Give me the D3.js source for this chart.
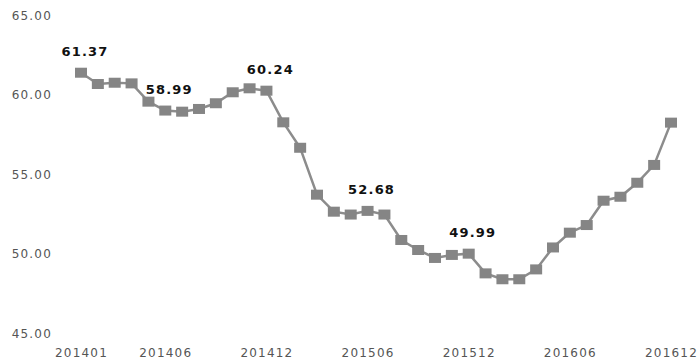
<!DOCTYPE html>
<html>
<head>
<meta charset="utf-8">
<script src="https://cdn.jsdelivr.net/npm/d3@7"></script>
<style>
  html, body { margin: 0; padding: 0; background: #fff; }
  svg { display: block; }
</style>
</head>
<body>
<svg id="chart" width="700" height="362"></svg>
<script>
// Monthly index, Jan 2014 – Dec 2016
const months = [
  "201401","201402","201403","201404","201405","201406",
  "201407","201408","201409","201410","201411","201412",
  "201501","201502","201503","201504","201505","201506",
  "201507","201508","201509","201510","201511","201512",
  "201601","201602","201603","201604","201605","201606",
  "201607","201608","201609","201610","201611","201612"
];
const values = [
  61.37, 60.66, 60.74, 60.70, 59.55, 58.99,
  58.92, 59.09, 59.45, 60.14, 60.39, 60.24,
  58.25, 56.65, 53.70, 52.63, 52.45, 52.68,
  52.45, 50.85, 50.22, 49.72, 49.91, 49.99,
  48.75, 48.38, 48.38, 49.00, 50.38, 51.31,
  51.79, 53.32, 53.57, 54.45, 55.57, 58.23
];
const xTickLabels = ["201401","201406","201412","201506","201512","201606","201612"];
const yTickValues = [45, 50, 55, 60, 65];
const labelledMonths = ["201401","201406","201412","201506","201512"];

const data = months.map((m, i) => ({ month: m, value: values[i] }));

const svg = d3.select("#chart");

const x = d3.scalePoint().domain(months).range([81, 671]);
const y = d3.scaleLinear().domain([45, 65]).range([333, 15]);

// Y axis: tick labels only
const yAxis = d3.axisLeft(y)
  .tickValues(yTickValues)
  .tickFormat(d3.format(".2f"))
  .tickSize(0)
  .tickPadding(0);
const yg = svg.append("g").attr("transform", "translate(52,0)").call(yAxis);
yg.select(".domain").remove();
yg.selectAll("text")
  .attr("fill", "#555")
  .attr("font-family", "DejaVu Sans, Verdana, sans-serif")
  .attr("font-size", 12)
  .attr("letter-spacing", "1.2px")
  .attr("dy", "0.35em");

// X axis: selected month labels
const xAxis = d3.axisBottom(x)
  .tickValues(xTickLabels)
  .tickSize(0)
  .tickPadding(0);
const xg = svg.append("g").attr("transform", "translate(0,347)").call(xAxis);
xg.select(".domain").remove();
xg.selectAll("text")
  .attr("fill", "#555")
  .attr("font-family", "DejaVu Sans, Verdana, sans-serif")
  .attr("font-size", 12)
  .attr("letter-spacing", "1.2px")
  .attr("dy", "0.35em")
  .attr("y", 6);

// Line
const line = d3.line()
  .x(d => x(d.month))
  .y(d => y(d.value));

svg.append("path")
  .datum(data)
  .attr("fill", "none")
  .attr("stroke", "#8c8c8c")
  .attr("stroke-width", 2.5)
  .attr("d", line);

// Square markers
const mw = 12, mh = 10;
svg.append("g")
  .selectAll("rect")
  .data(data)
  .join("rect")
  .attr("x", d => x(d.month) - mw / 2)
  .attr("y", d => y(d.value) - mh / 2)
  .attr("width", mw)
  .attr("height", mh)
  .attr("fill", "#858585");

// Value labels
svg.append("g")
  .selectAll("text")
  .data(data.filter(d => labelledMonths.includes(d.month)))
  .join("text")
  .attr("x", d => x(d.month) + 4)
  .attr("y", d => y(d.value) - 21)
  .attr("dy", "0.35em")
  .attr("text-anchor", "middle")
  .attr("font-family", "DejaVu Sans, Verdana, sans-serif")
  .attr("font-weight", "bold")
  .attr("font-size", 13)
  .attr("letter-spacing", "1.2px")
  .attr("fill", "#111")
  .text(d => d.value.toFixed(2));
</script>
</body>
</html>
